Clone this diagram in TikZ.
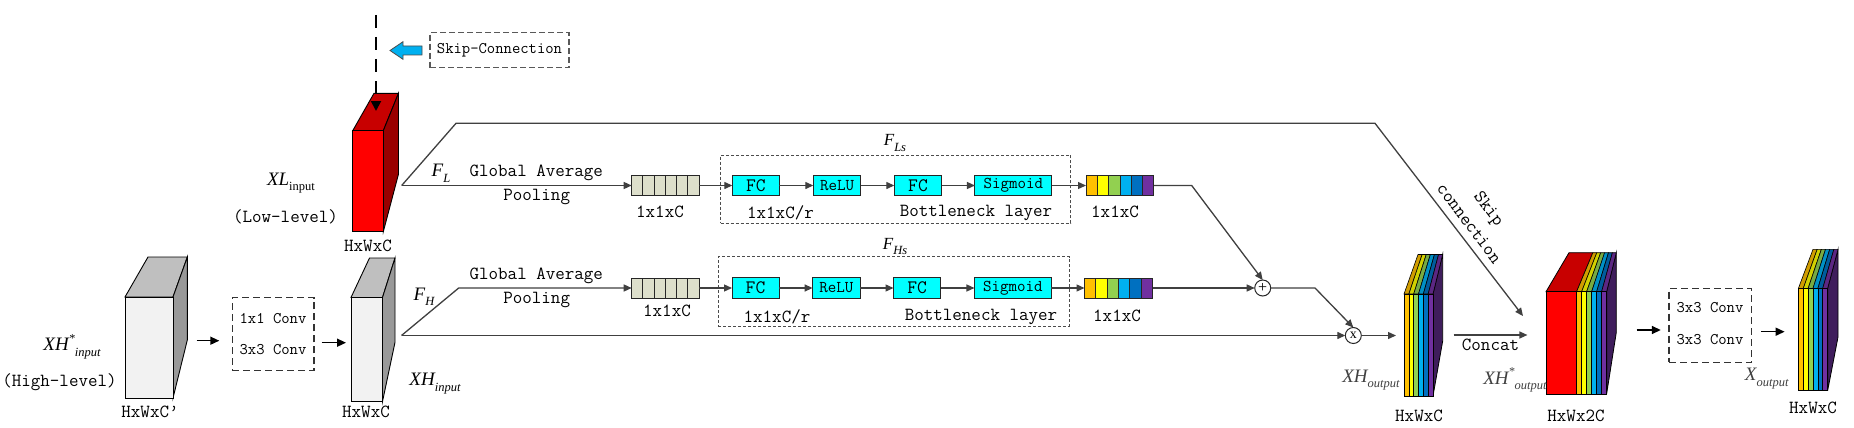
\documentclass[tikz,border=0pt]{standalone}
\usepackage{fontspec}
\usetikzlibrary{arrows.meta,calc}
\newfontfamily\serf{Liberation Serif}
\definecolor{cA}{HTML}{FFC000}
\definecolor{cB}{HTML}{FFFF00}
\definecolor{cC}{HTML}{92D050}
\definecolor{cD}{HTML}{00B0F0}
\definecolor{cE}{HTML}{0070C0}
\definecolor{cF}{HTML}{7030A0}
\definecolor{cside}{HTML}{3F1D5C}
\definecolor{gfront}{HTML}{F2F2F2}
\definecolor{gtop}{HTML}{BFBFBF}
\definecolor{gside}{HTML}{999999}
\definecolor{rfront}{HTML}{FF0000}
\definecolor{rtop}{HTML}{C80000}
\definecolor{rside}{HTML}{990000}
\definecolor{aqua}{HTML}{00FFFF}
\definecolor{vecgray}{HTML}{DDDFCB}
\definecolor{skipblue}{HTML}{00B0F0}
\newcommand\mfont[1]{\fontsize{#1}{#1}\selectfont}
\newcommand\lsub[1]{\raisebox{-0.3em}{\mfont{12.5}#1}}
\newcommand\lstar{\raisebox{0.45em}{\mfont{12}*}}
% perspective cube: x0 y0 x1 y1 backx backy k colourprefix
\newcommand\pcube[8]{%
  \pgfmathsetmacro\pcR{#5+#7*(#3-#1)}%
  \pgfmathsetmacro\pcB{#6+#7*(#4-#2)}%
  \filldraw[fill=#8top, line width=0.9pt] (#1,#2) -- (#5,#6) -- (\pcR,#6) -- (#3,#2) -- cycle;
  \filldraw[fill=#8side, line width=0.9pt] (#3,#2) -- (\pcR,#6) -- (\pcR,\pcB) -- (#3,#4) -- cycle;
  \filldraw[fill=#8front, line width=0.9pt] (#1,#2) rectangle (#3,#4);
}
% rainbow block: x0 y0 y1 redwidth stripew backx backy k
\newcommand\rbox[8]{%
  \pgfmathsetmacro\rbW{#4+6*#5}%
  \pgfmathsetmacro\rbR{#6+#8*\rbW}%
  \pgfmathsetmacro\rbB{#7+#8*(#3-#2)}%
  \filldraw[fill=cside, line width=0.8pt] ({#1+\rbW},#2) -- (\rbR,#7) -- (\rbR,\rbB) -- ({#1+\rbW},#3) -- cycle;
  \ifdim #4pt>0pt
    \filldraw[fill=rtop, line width=0.8pt] (#1,#2) -- (#6,#7) -- ({#6+#8*#4},#7) -- ({#1+#4},#2) -- cycle;
    \filldraw[fill=rfront, line width=0.8pt] (#1,#2) rectangle ({#1+#4},#3);
  \fi
  \foreach \cl [count=\ii from 0] in {cA,cB,cC,cD,cE,cF} {
    \filldraw[fill=\cl!82!black, line width=0.6pt] ({#1+#4+\ii*#5},#2) -- ({#6+#8*(#4+\ii*#5)},#7) -- ({#6+#8*(#4+(\ii+1)*#5)},#7) -- ({#1+#4+(\ii+1)*#5},#2) -- cycle;
    \filldraw[fill=\cl, line width=0.6pt] ({#1+#4+\ii*#5},#2) rectangle ({#1+#4+(\ii+1)*#5},#3);
  }
}
% vector of cells: x0 ycenter cellw colours
\newcommand\vecrow[4]{%
  \foreach \cl [count=\ii from 0] in {#4} {
    \filldraw[fill=\cl, draw=black!85, line width=1pt] ({#1+\ii*#3},{#2-10}) rectangle ({#1+(\ii+1)*#3},{#2+10});
  }
}
\begin{document}
\begin{tikzpicture}[x=1pt,y=-1pt,
  every node/.style={inner sep=0pt, outer sep=0pt, font=\ttfamily\mfont{18.5}},
  ln/.style={draw=black!75, line width=1.3pt},
  arr/.style={ln, -{Triangle[length=8pt,width=7pt]}},
  bigarr/.style={draw=black, line width=1.5pt, -{Triangle[length=9pt,width=8pt]}},
  unit/.style={draw=black!85, line width=1pt, fill=aqua, minimum height=20.5pt},
  convbox/.style={draw=black!80, dash pattern=on 7pt off 4pt, line width=1.3pt},
  grpbox/.style={draw=black!70, dash pattern=on 3pt off 2pt, line width=1pt},
  lab/.style={font=\serf\itshape\mfont{19}},
  op/.style={circle, draw=black!85, line width=1pt, minimum size=16pt, fill=white},
  small/.style={font=\ttfamily\mfont{16.2}},
]
\useasboundingbox (0,0) rectangle (1854,428);
\fill[white] (0,0) rectangle (1854,428);

% ---- legend
\path[fill=skipblue, draw=black!70, line width=0.8pt] (390,50.5) -- (403,41.7) -- (403,46) -- (422,46) -- (422,55) -- (403,55) -- (403,59.3) -- cycle;
\node[draw=black!65, dash pattern=on 6pt off 3pt, line width=1.2pt, minimum width=139pt, minimum height=35pt, small] (legend) at (499.5,50.2) {Skip-Connection};

% ---- blocks
\pcube{125}{297}{173}{398}{148}{257}{0.82}{g}
\pcube{351}{297.5}{382.5}{401.5}{369.5}{258}{0.81}{g}
\pcube{352.7}{130.7}{383.3}{231.7}{374}{93.3}{0.8}{r}
\rbox{1404}{294}{396}{0}{4.83}{1418}{254.5}{0.85}
\rbox{1546}{291.7}{394}{30.6}{5}{1569}{252.7}{0.78}
\rbox{1798.4}{288.3}{390.7}{0}{4.87}{1813}{249.3}{0.856}

% dashed skip input
\coordinate (dtop) at (376,15);
\coordinate (dend) at (376,111);
\draw[line width=2pt, dash pattern=on 13pt off 9pt, -{Triangle[length=10pt,width=10pt]}] (dtop) -- (dend);

% ---- vectors
\vecrow{631.7}{185.5}{11.22}{vecgray,vecgray,vecgray,vecgray,vecgray,vecgray}
\vecrow{631.7}{288}{11.22}{vecgray,vecgray,vecgray,vecgray,vecgray,vecgray}
\vecrow{1086}{185.5}{11.33}{cA,cB,cC,cD,cE,cF}
\vecrow{1084.5}{288}{11.33}{cA,cB,cC,cD,cE,cF}
\node[minimum width=67.3pt, minimum height=20pt] (v1) at (665.35,185.5) {};
\node[minimum width=67.3pt, minimum height=20pt] (v2) at (665.35,288) {};
\node[minimum width=68pt, minimum height=20pt] (cv1) at (1120,185.5) {};
\node[minimum width=68pt, minimum height=20pt] (cv2) at (1118.5,288) {};

% ---- group boxes
\node[grpbox, minimum width=350pt, minimum height=68.3pt] (grp1) at (895.7,189.15) {};
\node[grpbox, minimum width=351pt, minimum height=69.3pt] (grp2) at (893.8,291.35) {};

% ---- units
\node[unit, minimum width=47pt, font=\ttfamily\mfont{19}] (fc1) at (755.8,185.5) {FC};
\node[unit, minimum width=47.4pt, font=\ttfamily\mfont{16.5}] (relu1) at (837,185.5) {ReLU};
\node[unit, minimum width=47.4pt, font=\ttfamily\mfont{19}] (fc2) at (918,185.5) {FC};
\node[unit, minimum width=76.7pt, font=\ttfamily\mfont{16.5}] (sig1) at (1013.3,185.5) {Sigmoid};
\node[unit, minimum width=47pt, font=\ttfamily\mfont{19}] (fc3) at (755.5,288) {FC};
\node[unit, minimum width=47.4pt, font=\ttfamily\mfont{16.5}] (relu2) at (836.3,288) {ReLU};
\node[unit, minimum width=47.4pt, font=\ttfamily\mfont{19}] (fc4) at (917.2,288) {FC};
\node[unit, minimum width=76.7pt, font=\ttfamily\mfont{16.5}] (sig2) at (1012.8,288) {Sigmoid};

% ---- operators
\node[op, font=\serf\mfont{16}] (plus) at (1262.7,288) {+};
\node[op, font=\serf\mfont{14}] (times) at (1353.3,335.5) {x};

% ---- conv boxes
\node[convbox, minimum width=81.7pt, minimum height=73pt] (conv1) at (273.15,334.2) {};
\node[small] (c1a) at (273,318.3) {1x1 Conv};
\node[small] (c1b) at (273,350) {3x3 Conv};
\node[convbox, minimum width=82.3pt, minimum height=74pt] (conv2) at (1710.15,325.3) {};
\node[small] (c2a) at (1710,307.7) {3x3 Conv};
\node[small] (c2b) at (1710,340) {3x3 Conv};

% ---- coordinates
\coordinate (J1) at (401.7,185.5);
\coordinate (J1a) at (456,123.3);
\coordinate (J1b) at (1375,123.3);
\coordinate (skipend) at (1523,316);
\coordinate (J2) at (401.5,335.5);
\coordinate (J2a) at (458.7,288);
\coordinate (k1) at (1191.7,185.5);
\coordinate (k2) at (1315,288);
\coordinate (k3) at (1396,335.5);
\coordinate (ca) at (1453.5,335);
\coordinate (cb) at (1527.4,335);
\coordinate (a1s) at (196.7,340.7);
\coordinate (a1e) at (219.3,340.7);
\coordinate (a2s) at (321.7,342.7);
\coordinate (a2e) at (346,342.7);
\coordinate (a3s) at (1636.6,330);
\coordinate (a3e) at (1660.8,330);
\coordinate (a4s) at (1760.9,331.7);
\coordinate (a4e) at (1784.6,331.7);

% ---- connectors
\draw[arr] (J1) -- (J1a) -- (J1b) -- (skipend);
\draw[arr] (J1) -- (v1.west);
\draw[arr] (v1.east) -- (fc1.west);
\draw[arr] (fc1.east) -- (relu1.west);
\draw[arr] (relu1.east) -- (fc2.west);
\draw[arr] (fc2.east) -- (sig1.west);
\draw[arr] (sig1.east) -- (cv1.west);
\draw[arr] (cv1.east) -- (k1) -- (plus.north);
\draw[arr] (J2) -- (J2a) -- (v2.west);
\draw[arr] (v2.east) -- (fc3.west);
\draw[arr] (fc3.east) -- (relu2.west);
\draw[arr] (relu2.east) -- (fc4.west);
\draw[arr] (fc4.east) -- (sig2.west);
\draw[arr] (sig2.east) -- (cv2.west);
\draw[arr] (cv2.east) -- (plus.west);
\draw[arr] (plus.east) -- (k2) -- (times.north);
\draw[arr] (J2) -- (times.west);
\draw[arr] (times.east) -- (k3);
\draw[arr] (ca) -- (cb);
\draw[bigarr] (a1s) -- (a1e);
\draw[bigarr] (a2s) -- (a2e);
\draw[bigarr] (a3s) -- (a3e);
\draw[bigarr] (a4s) -- (a4e);

% ---- texts
\node[lab] (xl) at (291,183) {XL\lsub{\upshape input}};
\node (lowlvl) at (285.5,217) {(Low-level)};
\node (d1) at (368,246) {HxWxC};
\node[lab] (xhs) at (72,346.7) {XH\lstar\lsub{input}};
\node (hl) at (59.5,381.7) {(High-level)};
\node (d2) at (150,412) {HxWxC’};
\node (d3) at (366,412) {HxWxC};
\node[lab] (xh) at (435,383.3) {XH\lsub{input}};
\node[lab] (fl) at (441,173) {F\lsub{L}};
\node (ga1) at (536.3,173.3) {Global Average};
\node (po1) at (536.7,197.3) {Pooling};
\node[lab] (fh) at (424,296.7) {F\lsub{H}};
\node (ga2) at (536.3,276) {Global Average};
\node (po2) at (536.7,300) {Pooling};
\node (s1) at (660,211.7) {1x1xC};
\node (s2) at (667,310.7) {1x1xC};
\node[lab, font=\serf\itshape\mfont{17}] (fls) at (895,143) {F\lsub{Ls}};
\node[lab, font=\serf\itshape\mfont{17}] (fhs) at (895,246.7) {F\lsub{Hs}};
\node (r1) at (780.5,213.3) {1x1xC/r};
\node (r2) at (777,316.7) {1x1xC/r};
\node (b1) at (976,213.3) {Bottleneck layer};
\node (b2) at (981,316.7) {Bottleneck layer};
\node (s3) at (1115,211.7) {1x1xC};
\node (s4) at (1117,315.7) {1x1xC};
\node[lab, text=black!75] (xho) at (1371,380) {XH\lsub{output}};
\node (d4) at (1419,416) {HxWxC};
\node (cc) at (1490.5,345) {Concat};
\node[lab, text=black!75] (xhso) at (1515,380) {XH\lstar\lsub{output}};
\node (d5) at (1576,416) {HxWx2C};
\node[lab, text=black!75] (xo) at (1766.7,378.3) {X\lsub{output}};
\node (d6) at (1813,408.3) {HxWxC};
\node[rotate=-53, align=center, font=\ttfamily\fontsize{18.5}{25}\selectfont] (skl) at (1479.4,215.8) {Skip\\connection};
\end{tikzpicture}
\end{document}
